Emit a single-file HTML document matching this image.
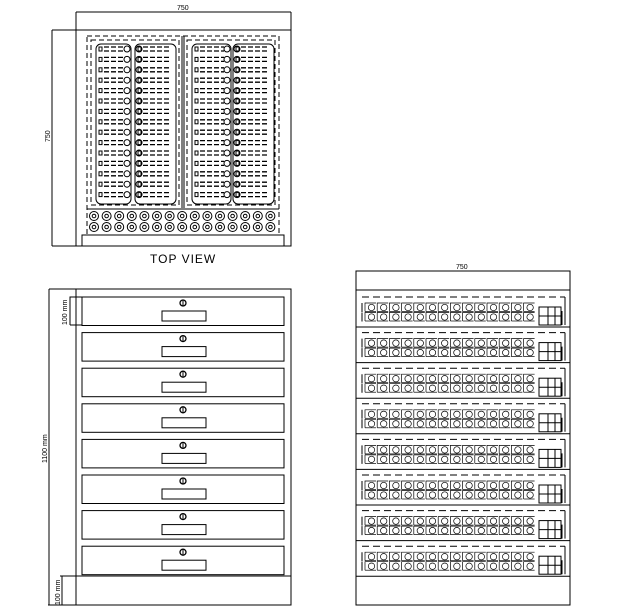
<!DOCTYPE html>
<html><head><style>
html,body{margin:0;padding:0;background:#fff;}
svg{display:block;}
text{font-family:"Liberation Sans",sans-serif;fill:#000;}
</style></head><body>
<svg id="s" width="622" height="614" viewBox="0 0 622 614" xmlns="http://www.w3.org/2000/svg" fill="none" stroke="#000" stroke-width="1">
<g id="top">
<line x1="76" y1="12" x2="291" y2="12"/>
<line x1="76" y1="12" x2="76" y2="246"/>
<line x1="291" y1="12" x2="291" y2="30"/>
<rect x="76" y="30" width="215" height="216"/>
<line x1="52" y1="30" x2="76" y2="30"/>
<line x1="52" y1="30" x2="52" y2="246"/>
<line x1="52" y1="246" x2="76" y2="246"/>
<rect x="87" y="36" width="192" height="199" stroke-dasharray="5,3"/>
<rect x="91" y="40" width="88" height="165" stroke-dasharray="5,3"/>
<rect x="187" y="40" width="88" height="165" stroke-dasharray="5,3"/>
<line x1="182" y1="36" x2="182" y2="208"/>
<line x1="184" y1="36" x2="184" y2="208"/>
<line x1="87" y1="209" x2="279" y2="209"/>
<rect x="82" y="235" width="202" height="11"/>
</g>
<text x="177" y="10" font-size="7" stroke="none">750</text>
<text x="0" y="0" font-size="7" stroke="none" transform="translate(50,142) rotate(-90)">750</text>
<text x="150" y="263" font-size="12" stroke="none" letter-spacing="1">TOP  VIEW</text>

<rect x="76" y="289" width="215" height="316"/>
<line x1="49" y1="289" x2="76" y2="289"/>
<line x1="49" y1="289" x2="49" y2="605"/>
<line x1="48" y1="605" x2="76" y2="605"/>
<line x1="76" y1="576" x2="291" y2="576"/>
<polyline points="70,325 70,297 82,297"/>
<line x1="70" y1="325" x2="82" y2="325"/>
<polyline points="60,576 76,576"/>
<line x1="62" y1="576" x2="62" y2="605"/>
<text x="0" y="0" font-size="7" stroke="none" transform="translate(67,325) rotate(-90)">100  mm</text>
<text x="0" y="0" font-size="7" stroke="none" transform="translate(60,605) rotate(-90)">100  mm</text>
<text x="0" y="0" font-size="7" stroke="none" transform="translate(47,463) rotate(-90)">1100  mm</text>
<g id="drawers"></g>

<line x1="356" y1="271" x2="570" y2="271"/>
<rect x="356" y="271" width="214" height="334"/>
<line x1="356" y1="290" x2="570" y2="290"/>
<text x="456" y="269" font-size="7" stroke="none">750</text>
<g id="shelves"></g>
<g id="tv"></g>
</svg>
<script>
var NS="http://www.w3.org/2000/svg";
function el(p,t,a){var e=document.createElementNS(NS,t);for(var k in a)e.setAttribute(k,a[k]);p.appendChild(e);return e;}
var d=document.getElementById('drawers');
for(var i=0;i<8;i++){var y=297+i*35.6;
el(d,'rect',{x:82,y:y,width:202,height:28.5});
el(d,'rect',{x:162,y:y+14,width:44,height:10});
el(d,'circle',{cx:183,cy:y+6,r:3,'stroke-width':1.3});
el(d,'line',{x1:183,y1:y+3.5,x2:183,y2:y+8.5});}
var s=document.getElementById('shelves');
for(var i=0;i<8;i++){var y=297+i*35.6;
el(s,'line',{x1:362,y1:y,x2:565,y2:y,'stroke-dasharray':'7,4'});
el(s,'line',{x1:356,y1:y+30,x2:570,y2:y+30});
el(s,'line',{x1:565,y1:y,x2:565,y2:y+28});
el(s,'line',{x1:562,y1:y+14,x2:562,y2:y+28});
for(var r=0;r<2;r++){var yy=y+6+r*9.5;
el(s,'line',{x1:362,y1:yy,x2:362,y2:yy+9});
for(var c=0;c<14;c++){var x=365+c*12.2;
el(s,'polyline',{points:(x)+','+(yy+8.5)+' '+x+','+yy+' '+(x+11)+','+yy,'stroke-width':0.7});
el(s,'line',{x1:x,y1:yy+8.5,x2:x+11,y2:yy+8.5,'stroke-width':0.7});
el(s,'circle',{cx:x+6.5,cy:yy+4.5,r:3.2,'stroke-width':0.7});}}
el(s,'rect',{x:539,y:y+10,width:22,height:18});
el(s,'line',{x1:539,y1:y+19,x2:561,y2:y+19});
el(s,'line',{x1:548,y1:y+10,x2:548,y2:y+28});
el(s,'line',{x1:555,y1:y+10,x2:555,y2:y+28});}
var t=document.getElementById('tv');
[[96,131],[135,176],[192,231],[233,274]].forEach(function(c,ci){
el(t,'rect',{x:c[0],y:44,width:c[1]-c[0],height:160,rx:5});
for(var r=0;r<15;r++){var y=49+r*10.4;
el(t,'rect',{x:c[0]+3,y:y-2,width:3,height:4});
el(t,'line',{x1:c[0]+8,y1:y-2,x2:c[1]-7,y2:y-2,'stroke-dasharray':'5,2','stroke-width':1.3});
el(t,'line',{x1:c[0]+8,y1:y+2,x2:c[1]-7,y2:y+2,'stroke-dasharray':'5,2','stroke-width':1.3});
el(t,'circle',{cx:ci%2==0?c[1]-4:c[0]+4,cy:y,r:3});}});
for(var r=0;r<2;r++)for(var c=0;c<15;c++){var x=94+c*12.6,y=216+r*11;
el(t,'circle',{cx:x,cy:y,r:4.5});el(t,'circle',{cx:x,cy:y,r:1.8});}
</script>
</body></html>
